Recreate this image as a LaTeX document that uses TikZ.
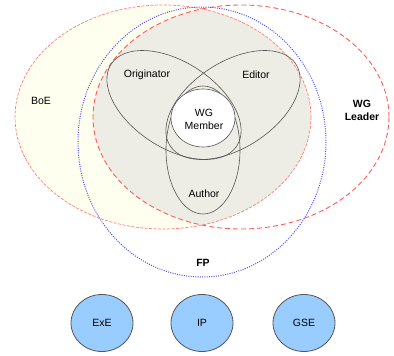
\documentclass[tikz,border=0pt]{standalone}
\usepackage{fontspec}
\setmainfont{Liberation Sans}
\usetikzlibrary{shapes.geometric}
\definecolor{boefill}{HTML}{FFFFF0}
\definecolor{bothfill}{HTML}{EDEDE5}
\definecolor{redline}{HTML}{FF5C5C}
\definecolor{blueline}{HTML}{5050F0}
\definecolor{roleline}{HTML}{555555}
\definecolor{bodyfill}{HTML}{99CCFF}
\tikzset{
  lbl/.style={font=\fontsize{10.5}{12}\selectfont, align=center, inner sep=0pt},
  boldlbl/.style={lbl, font=\fontsize{10.5}{12}\selectfont\bfseries},
  roleshape/.style={draw=roleline, line width=0.6pt, ellipse, inner sep=0pt},
  bodyshape/.style={draw=roleline, line width=0.8pt, fill=bodyfill, ellipse,
    minimum width=62pt, minimum height=57pt, inner sep=0pt,
    font=\fontsize{10.5}{12}\selectfont},
  boeline/.style={draw=redline!80, line width=0.7pt, dash pattern=on 3pt off 1.5pt},
  leaderline/.style={draw=redline, line width=0.9pt, dash pattern=on 5pt off 3pt},
  fpline/.style={draw=blueline, line width=1pt, dash pattern=on 1pt off 1.3pt}
}
\begin{document}
\begin{tikzpicture}[x=1pt,y=-1pt]
\useasboundingbox (0,0) rectangle (394,356);
% fills
\fill[boefill] (163,117) ellipse [x radius=148, y radius=112];
\begin{scope}
  \clip (163,117) ellipse [x radius=148, y radius=112];
  \fill[bothfill] (241,117) ellipse [x radius=148, y radius=112];
\end{scope}
% outlines
\draw[boeline] (163,117) ellipse [x radius=148, y radius=112];
\draw[leaderline] (241,117) ellipse [x radius=148, y radius=112];
\draw[fpline] (202,142) ellipse [x radius=124, y radius=135];
% role ellipses
\node[roleshape, minimum width=150pt, minimum height=86pt, rotate=-33] (orig) at (174,105) {};
\node[roleshape, minimum width=150pt, minimum height=86pt, rotate=33] (edit) at (233,105) {};
\node[roleshape, minimum width=74pt, minimum height=128pt] (auth) at (203,150) {};
\node[roleshape, fill=white, minimum width=64pt, minimum height=58pt] (wgm) at (203,118) {};
% labels
\node[lbl] (lorig) at (147,75) {Originator};
\node[lbl] (ledit) at (256,75) {Editor};
\node[lbl] (lwgm) at (204,119) {WG\\[1pt]Member};
\node[lbl] (lauth) at (204,194) {Author};
\node[lbl] (lboe) at (41,101) {BoE};
\node[boldlbl] (llead) at (362,110) {WG\\[1pt]Leader};
\node[boldlbl] (lfp) at (203,263) {FP};
% bodies
\node[bodyshape] (exe) at (102,323) {ExE};
\node[bodyshape] (ip) at (202,323) {IP};
\node[bodyshape] (gse) at (304,323) {GSE};
\end{tikzpicture}
\end{document}
